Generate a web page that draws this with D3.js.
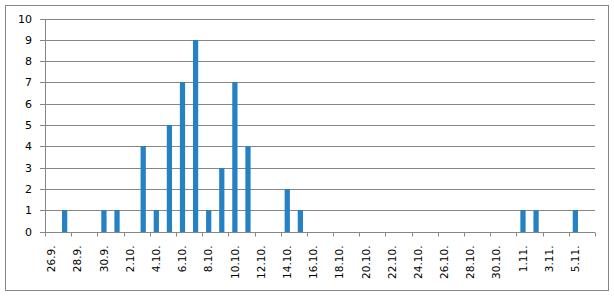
<!DOCTYPE html>
<html>
<head>
<meta charset="utf-8">
<script src="https://cdn.jsdelivr.net/npm/d3@7"></script>
<style>
	body { margin: 0; background: #fff; }
	text { font-family: "DejaVu Sans", Verdana, sans-serif; fill: #000; }
</style>
</head>
<body>
<div id="chart"></div>
<script>
// days shown on the category axis
const categories = [
	'26.9.','27.9.','28.9.','29.9.','30.9.',
	'1.10.','2.10.','3.10.','4.10.','5.10.','6.10.','7.10.','8.10.','9.10.','10.10.',
	'11.10.','12.10.','13.10.','14.10.','15.10.','16.10.','17.10.','18.10.','19.10.','20.10.',
	'21.10.','22.10.','23.10.','24.10.','25.10.','26.10.','27.10.','28.10.','29.10.','30.10.','31.10.',
	'1.11.','2.11.','3.11.','4.11.','5.11.','6.11.'
];

// count per day
const values = [
	0,1,0,0,1,
	1,0,4,1,5,7,9,1,3,7,
	4,0,0,2,1,0,0,0,0,0,
	0,0,0,0,0,0,0,0,0,0,0,
	1,1,0,0,1,0
];

// only every other day gets a label
const tickLabels = [
	'26.9.','28.9.','30.9.','2.10.','4.10.','6.10.','8.10.','10.10.','12.10.','14.10.','16.10.',
	'18.10.','20.10.','22.10.','24.10.','26.10.','28.10.','30.10.','1.11.','3.11.','5.11.'
];

const yTicks = [0,1,2,3,4,5,6,7,8,9,10];

const W = 614, H = 297;
const plot = {l: 45, r: 595, t: 18.5, b: 231.5};
const grey = '#868686';

var svg = d3.select('#chart').append('svg')
	.attr('width', W)
	.attr('height', H);

// outer chart frame
svg.append('rect')
	.attr('x', 5.5).attr('y', 5.5)
	.attr('width', 603).attr('height', 285)
	.attr('fill', '#fff')
	.attr('stroke', grey);

var x = d3.scaleBand()
	.domain(categories)
	.range([plot.l, plot.r])
	.paddingInner(0.6)
	.paddingOuter(0.3);

var y = d3.scaleLinear()
	.domain([0, 10])
	.range([plot.b, plot.t]);

function py(v) { return Math.round(y(v)) + 0.5; }

// horizontal gridlines (with small outside tick)
svg.selectAll('.grid')
	.data(yTicks)
	.enter()
	.append('line')
	.attr('class', 'grid')
	.attr('x1', plot.l - 5).attr('x2', plot.r)
	.attr('y1', py).attr('y2', py)
	.attr('stroke', grey);

// y labels
var yAxis = svg.append('g')
	.attr('transform', 'translate(' + plot.l + ',0)')
	.call(d3.axisLeft(y).tickValues(yTicks).tickSize(0).tickPadding(13));
yAxis.select('.domain').remove();
yAxis.selectAll('.tick line').remove();
yAxis.selectAll('.tick text')
	.style('font-size', '11px')
	.style('font-family', '"DejaVu Sans", Verdana, sans-serif')
	.attr('fill', '#000');

svg.append('line')
	.attr('x1', plot.l + 0.5).attr('x2', plot.l + 0.5)
	.attr('y1', py(10)).attr('y2', py(0))
	.attr('stroke', grey);

// bars
svg.selectAll('.bar')
	.data(categories.map(function(c, i) { return {t: c, v: values[i]}; }))
	.enter()
	.append('rect')
	.attr('class', 'bar')
	.attr('fill', '#2580c4')
	.attr('x', function(d) { return x(d.t); })
	.attr('width', x.bandwidth())
	.attr('y', function(d) { return Math.round(y(d.v)); })
	.attr('height', function(d) { return Math.round(y(0)) - Math.round(y(d.v)); });

// category axis: ticks sit between every second day
var half = (x.step() - x.bandwidth()) / 2;
var boundaries = categories.filter(function(c, i) { return i % 2 == 0; })
	.map(function(c) { return x(c) - half; })
	.concat([plot.r]);

svg.append('line')
	.attr('x1', plot.l).attr('x2', plot.r)
	.attr('y1', py(0)).attr('y2', py(0))
	.attr('stroke', grey);

svg.selectAll('.xtick')
	.data(boundaries)
	.enter()
	.append('line')
	.attr('class', 'xtick')
	.attr('x1', function(d) { return Math.round(d) + 0.5; })
	.attr('x2', function(d) { return Math.round(d) + 0.5; })
	.attr('y1', py(0))
	.attr('y2', py(0) + 4)
	.attr('stroke', grey);

svg.selectAll('.xlabel')
	.data(tickLabels)
	.enter()
	.append('text')
	.attr('class', 'xlabel')
	.attr('transform', function(d) {
		return 'translate(' + (x(d) + x.bandwidth() / 2) + ',' + (plot.b + 14) + ')rotate(-90)';
	})
	.attr('dy', '0.35em')
	.style('text-anchor', 'end')
	.style('font-size', '10.5px')
	.text(function(d) { return d; });
</script>
</body>
</html>
